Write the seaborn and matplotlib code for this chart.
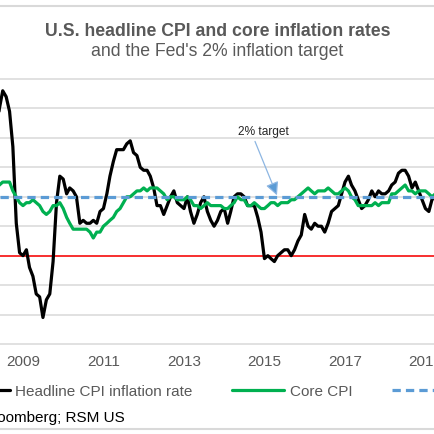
import pandas as pd
import matplotlib
matplotlib.use("Agg")
import matplotlib.pyplot as plt
import matplotlib.dates as mdates
from matplotlib.lines import Line2D
import seaborn as sns

# monthly YoY rates, Jan 2008 - Apr 2019
headline_cpi = [
    4.3, 4.0, 4.0, 3.9, 4.2, 5.0, 5.6, 5.4, 4.9, 3.7, 1.1, 0.1,       # 2008
    0.0, 0.2, -0.4, -0.7, -1.3, -1.4, -2.1, -1.5, -1.3, -0.2, 1.8, 2.7,  # 2009
    2.6, 2.1, 2.3, 2.2, 2.0, 1.1, 1.2, 1.1, 1.1, 1.2, 1.1, 1.5,       # 2010
    1.6, 2.1, 2.7, 3.2, 3.6, 3.6, 3.6, 3.8, 3.9, 3.5, 3.4, 3.0,       # 2011
    2.9, 2.9, 2.7, 2.3, 1.7, 1.7, 1.4, 1.7, 2.0, 2.2, 1.8, 1.7,       # 2012
    1.6, 2.0, 1.5, 1.1, 1.4, 1.8, 2.0, 1.5, 1.2, 1.0, 1.2, 1.5,       # 2013
    1.6, 1.1, 1.5, 2.0, 2.1, 2.1, 2.0, 1.7, 1.7, 1.7, 1.3, 0.8,       # 2014
    -0.1, 0.0, -0.1, -0.2, 0.0, 0.1, 0.2, 0.2, 0.0, 0.2, 0.5, 0.7,    # 2015
    1.4, 1.0, 0.9, 1.1, 1.0, 1.0, 0.8, 1.1, 1.5, 1.6, 1.7, 2.1,       # 2016
    2.5, 2.7, 2.4, 2.2, 1.9, 1.6, 1.7, 1.9, 2.2, 2.0, 2.2, 2.1,       # 2017
    2.1, 2.2, 2.4, 2.5, 2.8, 2.9, 2.9, 2.7, 2.3, 2.5, 2.2, 1.9,       # 2018
    1.6, 1.5, 1.9, 2.0,                                               # 2019
]
core_cpi = [
    2.5, 2.3, 2.4, 2.3, 2.3, 2.4, 2.5, 2.5, 2.5, 2.2, 2.0, 1.8,       # 2008
    1.7, 1.8, 1.8, 1.9, 1.8, 1.7, 1.5, 1.4, 1.5, 1.7, 1.7, 1.8,       # 2009
    1.6, 1.3, 1.1, 0.9, 0.9, 0.9, 0.9, 0.9, 0.8, 0.6, 0.8, 0.8,       # 2010
    1.0, 1.1, 1.2, 1.3, 1.5, 1.6, 1.8, 2.0, 2.0, 2.1, 2.2, 2.2,       # 2011
    2.3, 2.2, 2.3, 2.3, 2.3, 2.2, 2.1, 1.9, 2.0, 2.0, 1.9, 1.9,       # 2012
    1.9, 2.0, 1.9, 1.7, 1.7, 1.6, 1.7, 1.8, 1.7, 1.7, 1.7, 1.7,       # 2013
    1.6, 1.6, 1.7, 1.8, 2.0, 1.9, 1.9, 1.7, 1.7, 1.8, 1.7, 1.6,       # 2014
    1.6, 1.7, 1.8, 1.8, 1.7, 1.8, 1.8, 1.8, 1.9, 1.9, 2.0, 2.1,       # 2015
    2.2, 2.3, 2.2, 2.1, 2.2, 2.2, 2.2, 2.3, 2.2, 2.1, 2.1, 2.2,       # 2016
    2.3, 2.2, 2.0, 1.9, 1.7, 1.7, 1.7, 1.7, 1.7, 1.8, 1.7, 1.8,       # 2017
    1.8, 1.8, 2.1, 2.1, 2.2, 2.3, 2.4, 2.2, 2.2, 2.1, 2.2, 2.2,       # 2018
    2.2, 2.1, 2.0, 2.1,                                               # 2019
]
fed_target = 2.0
tick_years = [2009, 2011, 2013, 2015, 2017, 2019]

dates = pd.date_range("2008-01-01", periods=len(headline_cpi), freq="MS")
df = pd.DataFrame({"date": dates, "headline": headline_cpi, "core": core_cpi})

sns.set_theme(style="white")
plt.rcParams["font.family"] = ["Liberation Sans", "DejaVu Sans"]

W = H = 435
fig = plt.figure(figsize=(4.35, 4.35), dpi=100)
# plot area is wider than the picture: it is cut at both sides
ax = fig.add_axes([0, 90 / H, 1, 265 / H])

ax.axhline(0, color="#ff0000", lw=1.1, zorder=2)
sns.lineplot(data=df, x="date", y="headline", ax=ax, color="black", lw=2.3, zorder=3)
sns.lineplot(data=df, x="date", y="core", ax=ax, color="#00b050", lw=2.3, zorder=4)
ax.axhline(fed_target, color="#5b9bd5", lw=2.3, ls=(0, (2.6, 1.6)), zorder=5)

# x range chosen so Jan 2009 sits 23 px from the left edge (~40.25 px per year)
jan09 = pd.Timestamp("2009-01-01")
ax.set_xlim(jan09 - pd.Timedelta(days=23 / 40.25 * 365.25),
            jan09 + pd.Timedelta(days=412 / 40.25 * 365.25))
ax.set_ylim(-3, 6)
ax.set_yticks(range(-3, 7))
ax.set_xticks([pd.Timestamp(f"{y}-01-01") for y in tick_years])
ax.xaxis.set_major_formatter(mdates.DateFormatter("%Y"))
ax.grid(axis="y", color="#d9d9d9", lw=1.1)
ax.grid(axis="x", visible=False)
for gl in ax.get_ygridlines():
    gl.set_clip_on(False)
for s in ax.spines.values():
    s.set_visible(False)
ax.tick_params(axis="x", length=0, pad=7, labelsize=11, labelcolor="#595959")
ax.tick_params(axis="y", length=0, labelleft=False)
ax.set_xlabel("")
ax.set_ylabel("")

# "2% target" callout
ax.text(jan09 + pd.Timedelta(days=5.963 * 365.25), 4.25, "2% target",
        ha="center", va="center", fontsize=8.6, color="#262626")
ax.annotate("", xy=(jan09 + pd.Timedelta(days=6.31 * 365.25), fed_target + 0.05),
            xytext=(jan09 + pd.Timedelta(days=5.764 * 365.25), 3.88),
            arrowprops=dict(arrowstyle="-|>,head_length=0.6,head_width=0.3",
                            color="#8db6e2", fc="#5b9bd5", lw=0.9,
                            mutation_scale=13, shrinkA=0, shrinkB=0))

fig.text(0.5, 1 - 32 / H, "U.S. headline CPI and core inflation rates",
         ha="center", va="center", fontsize=12.7, fontweight="bold", color="#595959")
fig.text(0.5, 1 - 52 / H, "and the Fed's 2% inflation target",
         ha="center", va="center", fontsize=12.7, color="#595959")

handles = [
    Line2D([], [], color="black", lw=2.3),
    Line2D([], [], color="#00b050", lw=2.3),
    Line2D([], [], color="#5b9bd5", lw=2.3, ls=(0, (2.6, 1.6))),
]
labels = ["Headline CPI inflation rate", "Core CPI", "Fed's 2% target"]
fig.legend(handles, labels, loc="center left", bbox_to_anchor=(-42 / W, 1 - 392 / H),
           ncol=3, frameon=False, fontsize=11, labelcolor="#595959",
           handlelength=3.4, handletextpad=0.35, columnspacing=2.6, borderpad=0,
           borderaxespad=0)

fig.text(125 / W, 1 - 418 / H, "Source: Bloomberg; RSM US",
         ha="right", va="center", fontsize=11, color="black")

# chart border lines top and bottom
for yy in (7, 430):
    fig.add_artist(Line2D([0, 1], [1 - yy / H] * 2, transform=fig.transFigure,
                          color="#d9d9d9", lw=1.5))

fig.savefig("out.png", dpi=100)
